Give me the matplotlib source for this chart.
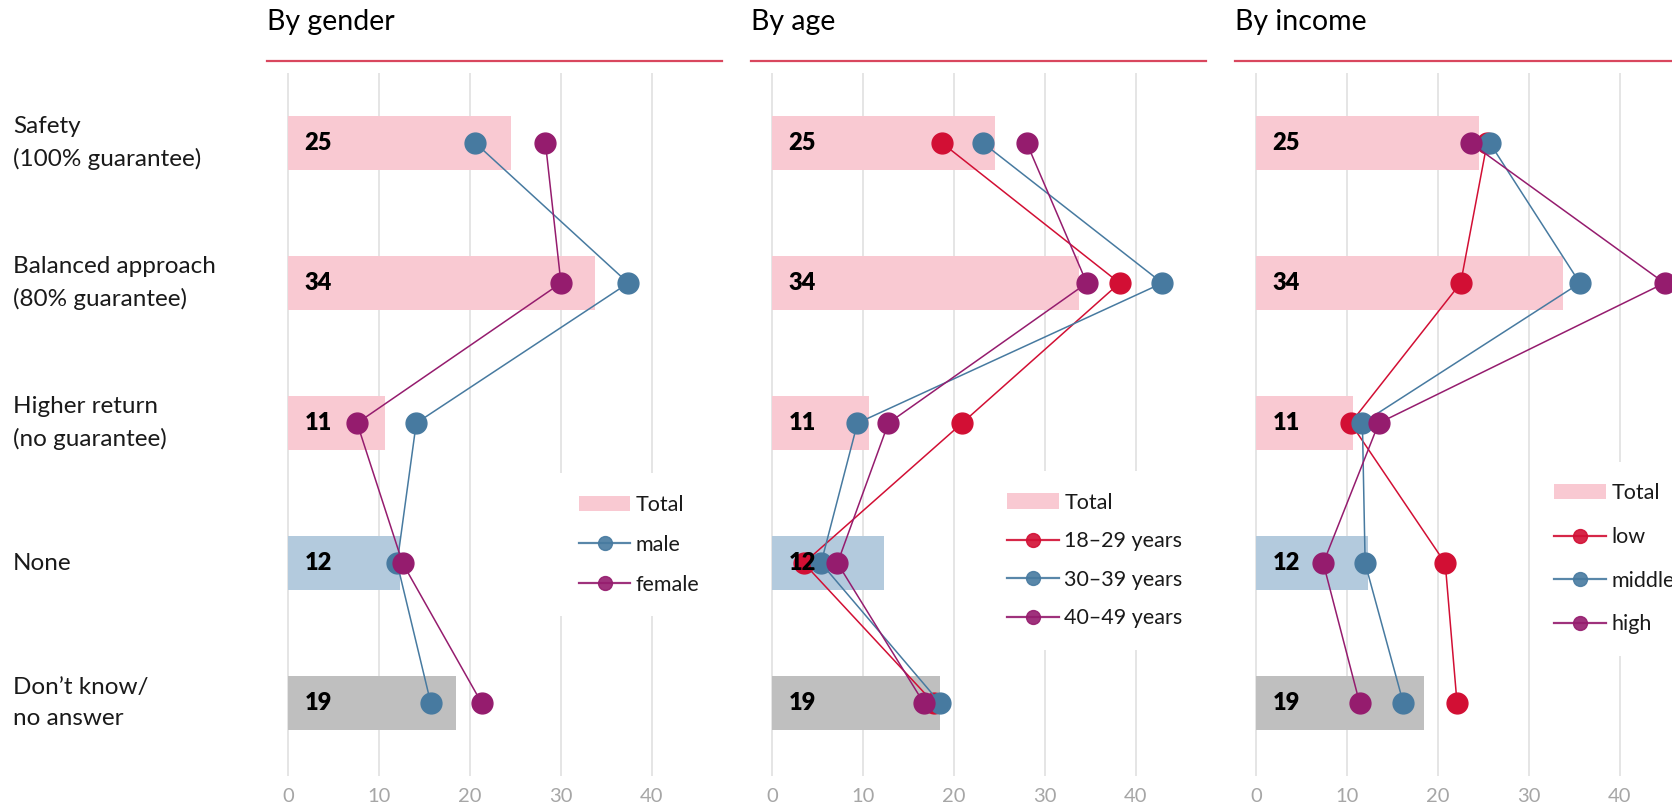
import matplotlib
matplotlib.use("Agg")
import matplotlib.pyplot as plt
from matplotlib.lines import Line2D
from matplotlib.patches import Patch

plt.rcParams["font.family"] = ["Lato", "DejaVu Sans"]

# --- data --------------------------------------------------------------------
categories = ["Safety\n(100% guarantee)", "Balanced approach\n(80% guarantee)",
              "Higher return\n(no guarantee)", "None", "Don\u2019t know/\nno answer"]
total = [24.5, 33.7, 10.7, 12.3, 18.5]
total_labels = ["25", "34", "11", "12", "19"]

gender_names = ["male", "female"]
male = [20.6, 37.4, 14.1, 12.0, 15.7]
female = [28.3, 30.0, 7.6, 12.6, 21.3]

age_names = ["18\u201329 years", "30\u201339 years", "40\u201349 years"]
age_18_29 = [18.7, 38.2, 20.9, 3.5, 17.8]
age_30_39 = [23.2, 42.9, 9.4, 5.4, 18.5]
age_40_49 = [28.0, 34.6, 12.8, 7.2, 16.7]

income_names = ["low", "middle", "high"]
inc_low = [25.4, 22.5, 10.4, 20.8, 22.1]
inc_middle = [25.7, 35.6, 11.7, 12.0, 16.2]
inc_high = [23.6, 44.9, 13.5, 7.4, 11.4]

xticks = [0, 10, 20, 30, 40]

# --- style -------------------------------------------------------------------
PINK = "#F9C9D2"
LBLUE = "#B3CADD"
GRAY = "#BFBFBF"
RED = "#D20F34"
BLUE = "#477AA0"
PURPLE = "#951C6E"
HEAD = "#D9475E"
bar_colors = [PINK, PINK, PINK, LBLUE, GRAY]

W, H = 1672, 810
fig = plt.figure(figsize=(W / 100, H / 100), dpi=100)

# title, legend names, series, colours, axes left [px], legend anchor (data), label spacing
panels = [
    ("By gender", gender_names, [male, female], [BLUE, PURPLE], 267, (29.6, 2.87), 0.93),
    ("By age", age_names, [age_18_29, age_30_39, age_40_49], [RED, BLUE, PURPLE], 751, (23.5, 2.98), 0.86),
    ("By income", income_names, [inc_low, inc_middle, inc_high], [RED, BLUE, PURPLE], 1235, (30.4, 2.97), 1.1),
]

ax_w, ax_top, ax_bot = 455, 73, 776
ypos = list(range(len(categories)))

for title, names, series, colors, left, leg_xy, leg_sp in panels:
    ax = fig.add_axes([left / W, 1 - ax_bot / H, ax_w / W, (ax_bot - ax_top) / H])
    ax.set_xlim(-2.3, 47.7)
    ax.set_ylim(4.52, -0.5)
    for s in ax.spines.values():
        s.set_visible(False)
    ax.set_xticks(xticks)
    ax.set_yticks([])
    ax.tick_params(axis="x", length=0, pad=9, labelsize=14.5, labelcolor="#A6A6A6")
    ax.grid(axis="x", color="#E3E3E3", lw=1.3, zorder=0)
    ax.set_axisbelow(True)

    ax.barh(ypos, total, height=0.39, color=bar_colors, zorder=1)
    for y, lab in zip(ypos, total_labels):
        ax.text(1.8, y, lab, ha="left", va="center", fontsize=17,
                fontweight="heavy", color="black", zorder=6)

    for vals, c in zip(series, colors):
        ax.plot(vals, ypos, color=c, lw=1.1, marker="o", ms=15, zorder=3)

    handles = [Patch(facecolor=PINK, edgecolor="none", label="Total")]
    for n, c in zip(names, colors):
        handles.append(Line2D([], [], color=c, lw=1.6, marker="o", ms=10,
                              alpha=0.9, label=n))
    leg = ax.legend(handles=handles, loc="center left", bbox_to_anchor=leg_xy,
                    bbox_transform=ax.transData, fontsize=15.5, frameon=True,
                    facecolor="white", edgecolor="none", framealpha=1,
                    borderpad=1.0, borderaxespad=0, handlelength=2.4,
                    handletextpad=0.25, labelspacing=leg_sp, fancybox=False)
    for t in leg.get_texts():
        t.set_color("#1A1A1A")
    leg.set_zorder(5)

    # panel title and red rule
    fig.text(left / W, 1 - 22 / H, title, ha="left", va="center", fontsize=20.5)
    fig.add_artist(Line2D([left / W, (left + ax_w) / W], [1 - 61 / H, 1 - 61 / H],
                          color=HEAD, lw=1.6))

for i, cat in enumerate(categories):
    fig.text(13 / W, 1 - (143 + 140 * i) / H, cat, ha="left", va="center",
             fontsize=17.5, linespacing=1.55, color="#1A1A1A")

fig.savefig("out.png", dpi=100)
